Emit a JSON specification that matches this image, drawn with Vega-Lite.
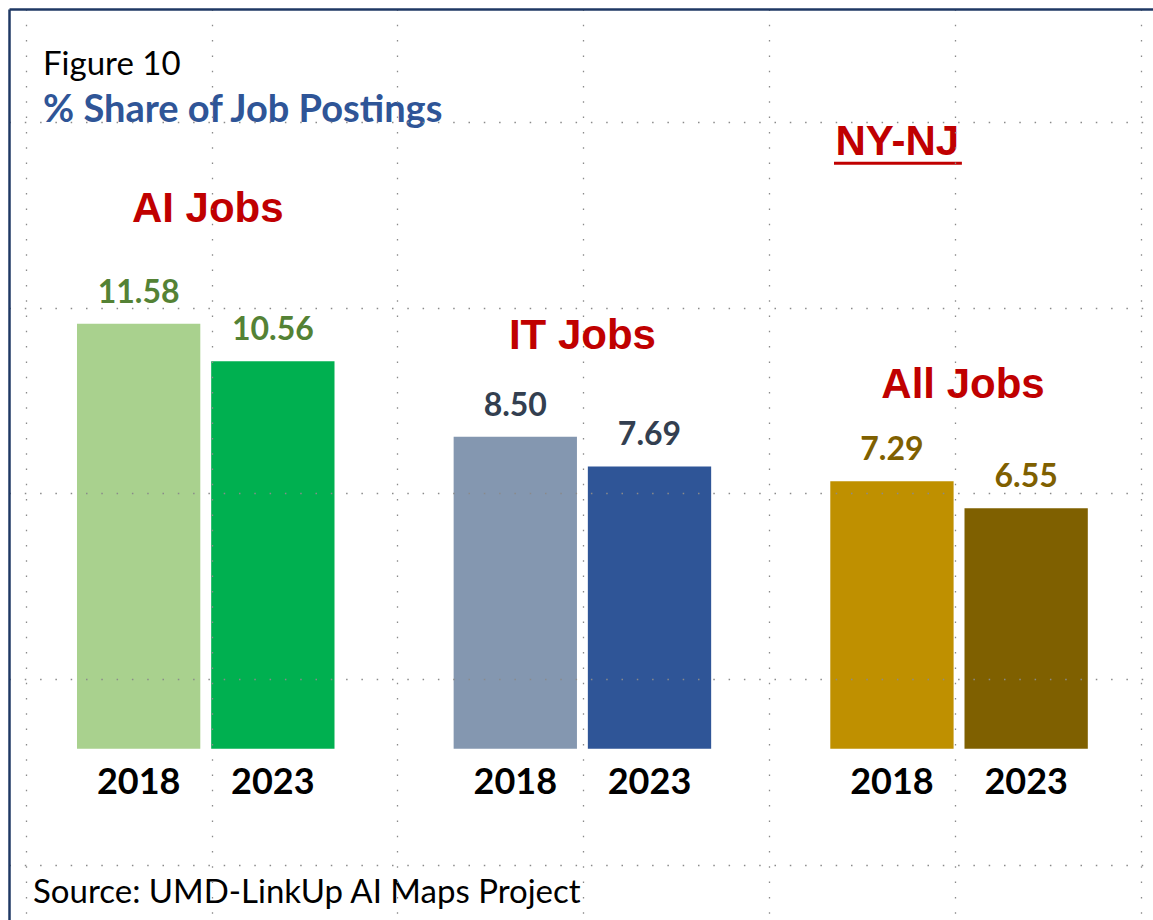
{
  "$schema": "https://vega.github.io/schema/vega-lite/v6.json",
  "width": 1153,
  "height": 920,
  "autosize": {"type": "fit", "contains": "padding"},
  "padding": {"left": 9, "top": 9, "right": 0, "bottom": 0},
  "background": "white",
  "config": {"view": {"stroke": null}},
  "title": {
    "text": "Figure 10",
    "subtitle": "% Share of Job Postings",
    "anchor": "start",
    "frame": "group",
    "orient": "top",
    "offset": -121,
    "dx": 34,
    "font": "Lato",
    "fontSize": 33,
    "fontWeight": "normal",
    "color": "#000000",
    "subtitleFont": "Lato",
    "subtitleFontSize": 38,
    "subtitleFontWeight": "bold",
    "subtitleColor": "#2F5597",
    "subtitlePadding": 10
  },
  "layer": [
    {
      "data": {"values": [{"source": "Source: UMD-LinkUp AI Maps Project"}]},
      "mark": {"type": "text", "align": "left", "baseline": "alphabetic", "dx": 7.3, "font": "Lato", "fontSize": 33, "color": "#000000"},
      "encoding": {
        "text": {"field": "source"},
        "x": {
          "datum": 0,
          "type": "quantitative",
          "scale": {"domain": [-0.0898, 6.064], "nice": false, "zero": false},
          "axis": {"orient": "top", "values": [0, 1, 2, 3, 4, 5, 6], "grid": true, "gridDash": [1.5, 13.8], "gridColor": "#8a8a8a", "gridWidth": 1.3, "labels": false, "ticks": false, "domain": true, "domainColor": "#1F3864", "domainWidth": 2.5, "title": null, "zindex": 1}
        },
        "y": {
          "datum": 4.205,
          "type": "quantitative",
          "scale": {"domain": [-0.6066, 4.2966], "nice": false, "zero": false, "reverse": true},
          "axis": {"orient": "left", "values": [0, 1, 2, 3, 4], "grid": true, "gridDash": [1.5, 13.8], "gridColor": "#8a8a8a", "gridWidth": 1.3, "labels": false, "ticks": false, "domain": true, "domainColor": "#1F3864", "domainWidth": 2.5, "title": null, "zindex": 1}
        }
      }
    },
    {
      "data": {
        "values": [
          {"group": "AI Jobs", "year": "2018", "key": "AI Jobs 2018", "share": 11.58},
          {"group": "AI Jobs", "year": "2023", "key": "AI Jobs 2023", "share": 10.56},
          {"group": "IT Jobs", "year": "2018", "key": "IT Jobs 2018", "share": 8.50},
          {"group": "IT Jobs", "year": "2023", "key": "IT Jobs 2023", "share": 7.69},
          {"group": "All Jobs", "year": "2018", "key": "All Jobs 2018", "share": 7.29},
          {"group": "All Jobs", "year": "2023", "key": "All Jobs 2023", "share": 6.55}
        ]
      },
      "layer": [
        {
          "mark": {"type": "bar"},
          "encoding": {
            "x": {"field": "group", "type": "nominal", "sort": null,
              "scale": {"domain": ["AI Jobs", "IT Jobs", "All Jobs"], "paddingInner": 0.3163, "paddingOuter": 0.1768, "align": 0.5105},
              "axis": null},
            "xOffset": {"field": "year", "type": "nominal",
              "scale": {"domain": ["2018", "2023"], "paddingInner": 0.0812, "paddingOuter": 0}},
            "y": {"field": "share", "type": "quantitative",
              "scale": {"domain": [-4.668, 20.155], "nice": false, "zero": false},
              "axis": null},
            "color": {"field": "key", "type": "nominal",
              "scale": {"domain": ["AI Jobs 2018", "AI Jobs 2023", "IT Jobs 2018", "IT Jobs 2023", "All Jobs 2018", "All Jobs 2023"],
                        "range": ["#A9D18E", "#00B050", "#8497B0", "#2F5597", "#BF9000", "#7F6000"]},
              "legend": null}
          }
        },
        {
          "mark": {"type": "text", "baseline": "alphabetic", "dy": -21, "font": "Lato", "fontSize": 32, "fontWeight": "bold"},
          "encoding": {
            "x": {"field": "group", "type": "nominal"},
            "xOffset": {"field": "year", "type": "nominal"},
            "y": {"field": "share", "type": "quantitative"},
            "text": {"field": "share", "type": "quantitative", "format": ".2f"},
            "color": {"field": "group", "type": "nominal",
              "scale": {"domain": ["AI Jobs", "IT Jobs", "All Jobs"], "range": ["#548235", "#333F50", "#7F6000"]},
              "legend": null}
          }
        },
        {
          "mark": {"type": "text", "baseline": "alphabetic", "dy": 45, "font": "Lato", "fontSize": 36, "fontWeight": "bold", "color": "#000000"},
          "encoding": {
            "x": {"field": "group", "type": "nominal"},
            "xOffset": {"field": "year", "type": "nominal"},
            "y": {"datum": 0, "type": "quantitative"},
            "text": {"field": "year"}
          }
        },
        {
          "data": {"values": [{"label": "AI Jobs"}]},
          "mark": {"type": "text", "baseline": "alphabetic", "dx": 2, "font": "Liberation Sans", "fontSize": 42, "fontWeight": "bold", "color": "#C00000"},
          "encoding": {
            "x": {"field": "label", "type": "nominal"},
            "y": {"datum": 14.35, "type": "quantitative"},
            "text": {"field": "label"}
          }
        },
        {
          "data": {"values": [{"label": "IT Jobs"}]},
          "mark": {"type": "text", "baseline": "alphabetic", "font": "Liberation Sans", "fontSize": 42, "fontWeight": "bold", "color": "#C00000"},
          "encoding": {
            "x": {"field": "label", "type": "nominal"},
            "y": {"datum": 10.89, "type": "quantitative"},
            "text": {"field": "label"}
          }
        },
        {
          "data": {"values": [{"label": "All Jobs"}]},
          "mark": {"type": "text", "baseline": "alphabetic", "dx": 4, "font": "Liberation Sans", "fontSize": 42, "fontWeight": "bold", "color": "#C00000"},
          "encoding": {
            "x": {"field": "label", "type": "nominal"},
            "y": {"datum": 9.55, "type": "quantitative"},
            "text": {"field": "label"}
          }
        },
        {
          "data": {"values": [{"label": "NY-NJ", "group": "All Jobs"}]},
          "mark": {"type": "text", "baseline": "alphabetic", "font": "Liberation Sans", "fontSize": 42, "fontWeight": "bold", "color": "#C00000"},
          "encoding": {
            "x": {"field": "group", "type": "nominal", "bandPosition": 0.26},
            "y": {"datum": 16.17, "type": "quantitative"},
            "text": {"field": "label"}
          }
        },
        {
          "data": {"values": [{"label": "NY-NJ", "group": "All Jobs"}]},
          "mark": {"type": "rule", "strokeWidth": 3, "color": "#C00000"},
          "encoding": {
            "x": {"field": "group", "type": "nominal", "bandPosition": 0.0144},
            "x2": {"field": "group", "bandPosition": 0.511},
            "y": {"datum": 15.95, "type": "quantitative"}
          }
        }
      ],
      "resolve": {"scale": {"color": "independent"}}
    }
  ],
  "resolve": {"scale": {"x": "independent", "y": "independent"}, "axis": {"x": "independent", "y": "independent"}}
}
